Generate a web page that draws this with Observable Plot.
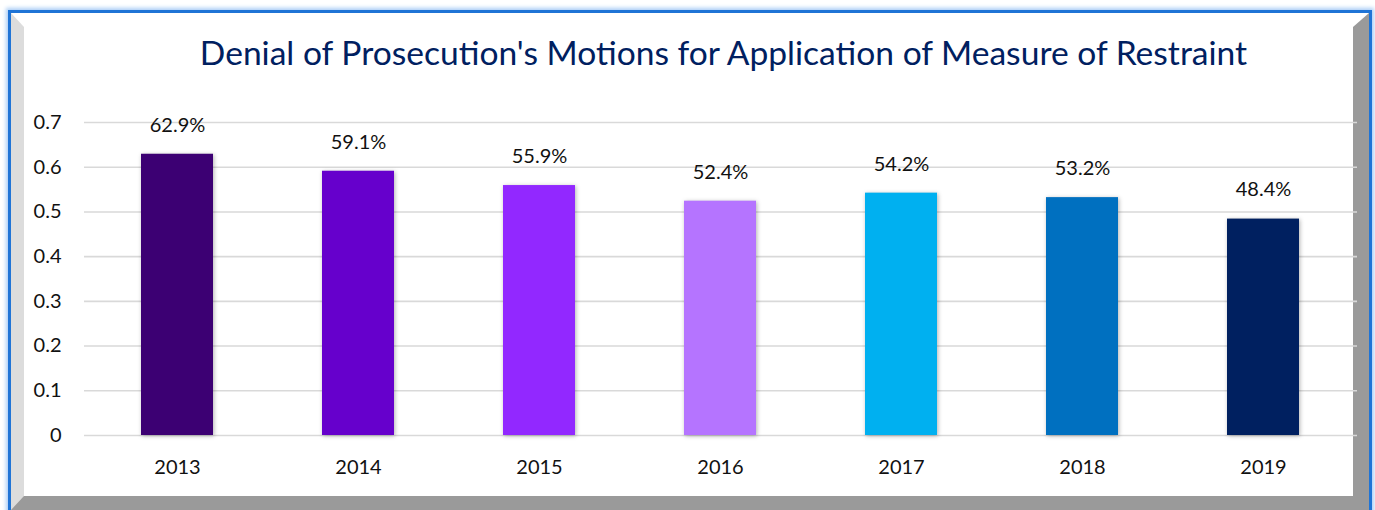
<!DOCTYPE html>
<html>
<head>
<meta charset="utf-8">
<script src="https://cdn.jsdelivr.net/npm/d3@7"></script>
<script src="https://cdn.jsdelivr.net/npm/@observablehq/plot@0.6"></script>
<style>
  html, body { margin: 0; padding: 0; background: #fff; overflow: hidden; }
  #stage { position: relative; width: 1375px; height: 510px; overflow: hidden; }
  #outer { position: absolute; left: 8px; top: 10px; width: 1358px; height: 497px;
           border: 3px solid #1f74d6; box-shadow: 0 0 4px 2px #a9cdf6; }
  #inner { box-sizing: border-box; width: 1358px; height: 497px; background: #fff;
           border-left: 13px solid #dcdcdc; border-right: 16px solid #9a9a9a;
           border-top: 14px solid #fff; border-bottom: 14px solid #9a9a9a; }
  #title { position: absolute; left: 723.5px; top: 32px; transform: translateX(-50%);
           white-space: nowrap; font-family: Lato, sans-serif; font-size: 33.6px; line-height: 40px;
           color: #002060; }
  #chart { position: absolute; left: 0; top: 90px; }
  #chart svg g[aria-label="bar"] rect { filter: drop-shadow(1px 1px 2px rgba(0,0,0,0.3)); }
</style>
</head>
<body>
<div id="stage">
  <div id="outer"><div id="inner"></div></div>
  <div id="title">Denial of Prosecution's Motions for Application of Measure of Restraint</div>
  <div id="chart"></div>
</div>
<script>
const years = ["2013", "2014", "2015", "2016", "2017", "2018", "2019"];
const values = [0.629, 0.591, 0.559, 0.524, 0.542, 0.532, 0.484];
const colors = ["#3c0073", "#6600cc", "#9228ff", "#b574ff", "#00b0f0", "#0070c0", "#002060"];
const yTicks = [0, 0.1, 0.2, 0.3, 0.4, 0.5, 0.6, 0.7];
const yTickLabels = ["0", "0.1", "0.2", "0.3", "0.4", "0.5", "0.6", "0.7"];

const data = years.map((y, i) => ({year: y, value: values[i], color: colors[i]}));

const chart = Plot.plot({
  width: 1375,
  height: 420,
  marginLeft: 84,
  marginRight: 18,
  marginTop: 32,
  marginBottom: 75,
  style: {background: "transparent", fontFamily: "Lato, sans-serif", fontSize: "20px", color: "#111"},
  x: {domain: years, paddingInner: 0.6, paddingOuter: 0.3, label: null, tickSize: 0, tickPadding: 24},
  y: {domain: [0, 0.7], ticks: yTicks, tickFormat: d => yTickLabels[yTicks.indexOf(d)], label: null, tickSize: 0, tickPadding: 23},
  color: {type: "identity"},
  marks: [
    Plot.ruleY(yTicks, {stroke: "#d9d9d9", strokeWidth: 1.6}),
    Plot.barY(data, {x: "year", y: "value", fill: "color"}),
    Plot.text(data, {x: "year", y: "value", text: d => (d.value * 100).toFixed(1) + "%", dy: -29, fontSize: 20, fill: "#111"})
  ]
});
document.getElementById("chart").appendChild(chart);
</script>
</body>
</html>
